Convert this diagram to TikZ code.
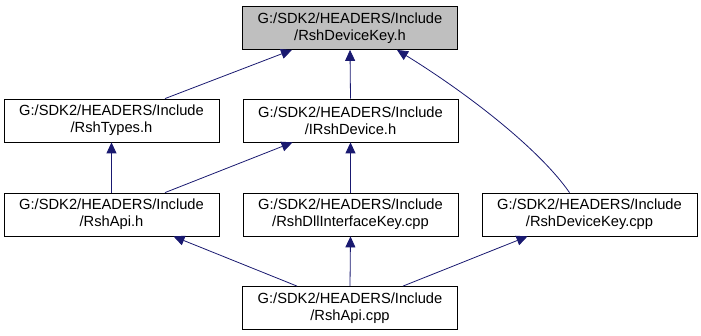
\documentclass[tikz,border=0pt]{standalone}
\usepackage{fontspec}
\setmainfont{Liberation Sans}
\usetikzlibrary{arrows.meta}
\definecolor{edge_blue}{RGB}{25,25,112}
\definecolor{key_gray}{RGB}{191,191,191}

\begin{document}
\begin{tikzpicture}[x=1pt,y=-1pt,
    file/.style={draw=black, thick, fill=white, minimum width=215pt, minimum height=43pt,
        inner sep=0pt, align=center, font=\fontsize{14.7}{17}\selectfont},
    incl/.style={draw=edge_blue, thick, -{Triangle[length=11pt,width=10pt]}}]
    \useasboundingbox (0,0) rectangle (701,336);

    % Header being included
    \node[file, fill=key_gray] (key) at (350,28) {G:/SDK2/HEADERS/Include\\/RshDeviceKey.h};

    % Second row
    \node[file] (types) at (111.5,120.5) {G:/SDK2/HEADERS/Include\\/RshTypes.h};
    \node[file] (idev) at (350.5,120.5) {G:/SDK2/HEADERS/Include\\/IRshDevice.h};

    % Third row
    \node[file] (apih) at (111.5,214.5) {G:/SDK2/HEADERS/Include\\/RshApi.h};
    \node[file] (dll) at (350.5,214.5) {G:/SDK2/HEADERS/Include\\/RshDllInterfaceKey.cpp};
    \node[file] (devcpp) at (589.5,214.5) {G:/SDK2/HEADERS/Include\\/RshDeviceKey.cpp};

    % Bottom
    \node[file] (apicpp) at (350,308) {G:/SDK2/HEADERS/Include\\/RshApi.cpp};

    % Include edges
    \draw[incl] ([xshift=53.5pt]types.north) -- ([xshift=-58pt]key.south);
    \draw[incl] (idev.north) -- (key.south);
    \draw[incl] ([xshift=-20pt]devcpp.north) .. controls (540,150) and (470,95) .. ([xshift=47pt]key.south);
    \draw[incl] (apih.north) -- (types.south);
    \draw[incl] ([xshift=53.5pt]apih.north) -- ([xshift=-58pt]idev.south);
    \draw[incl] (dll.north) -- (idev.south);
    \draw[incl] ([xshift=-53pt]apicpp.north) -- ([xshift=62pt]apih.south);
    \draw[incl] (apicpp.north) -- (dll.south);
    \draw[incl] ([xshift=53pt]apicpp.north) -- ([xshift=-62pt]devcpp.south);
\end{tikzpicture}
\end{document}
